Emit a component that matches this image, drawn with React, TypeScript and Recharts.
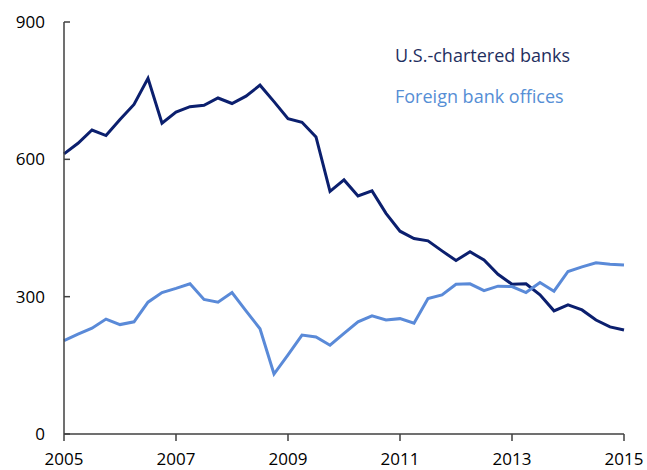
import React from "react";
import { LineChart, Line, XAxis, YAxis } from "recharts";

// quarterly, 2005Q1 .. 2015Q1
const quarters = [
  "2005Q1", "2005Q2", "2005Q3", "2005Q4",
  "2006Q1", "2006Q2", "2006Q3", "2006Q4",
  "2007Q1", "2007Q2", "2007Q3", "2007Q4",
  "2008Q1", "2008Q2", "2008Q3", "2008Q4",
  "2009Q1", "2009Q2", "2009Q3", "2009Q4",
  "2010Q1", "2010Q2", "2010Q3", "2010Q4",
  "2011Q1", "2011Q2", "2011Q3", "2011Q4",
  "2012Q1", "2012Q2", "2012Q3", "2012Q4",
  "2013Q1", "2013Q2", "2013Q3", "2013Q4",
  "2014Q1", "2014Q2", "2014Q3", "2014Q4",
  "2015Q1",
];

const usChartered = [
  612, 635, 664, 652, 687, 720, 777, 679, 703, 715, 718, 734, 722, 738, 762, 726,
  689, 681, 649, 530, 555, 520, 531, 482, 443, 427, 422, 400, 379, 398, 380, 349,
  327, 328, 304, 269, 282, 271, 249, 234, 227,
];

const foreignOffices = [
  204, 218, 231, 251, 239, 245, 288, 309, 318, 328, 294, 288, 309, 269, 230, 131,
  173, 216, 212, 194, 220, 245, 258, 249, 252, 242, 296, 304, 327, 328, 313, 323,
  322, 309, 331, 312, 355, 365, 374, 371, 369,
];

const xTicks = ["2005Q1", "2007Q1", "2009Q1", "2011Q1", "2013Q1", "2015Q1"];
const yTicks = [0, 300, 600, 900];

const data = quarters.map((q, i) => ({
  q,
  us: usChartered[i],
  foreign: foreignOffices[i],
}));

const DARK = "#0B1F6E";
const LIGHT = "#5A8AD8";
const FONT = "'Open Sans', sans-serif";

export default function App() {
  return (
    <div style={{ position: "absolute", left: 0, top: 0, width: 647, height: 470, background: "#fff" }}>
      <LineChart
        width={647}
        height={470}
        data={data}
        margin={{ top: 22, right: 23, bottom: 6, left: 0 }}
      >
        <XAxis
          dataKey="q"
          ticks={xTicks}
          interval={0}
          tickFormatter={(v: string) => v.slice(0, 4)}
          height={30}
          tickSize={7}
          tickMargin={12}
          axisLine={{ stroke: "#404040", strokeWidth: 1.5 }}
          tickLine={{ stroke: "#404040", strokeWidth: 1.5 }}
          tick={{ fontSize: 17, fill: "#000", fontFamily: FONT }}
        />
        <YAxis
          domain={[0, 900]}
          ticks={yTicks}
          width={64}
          tickSize={-6}
          tickMargin={25}
          axisLine={{ stroke: "#404040", strokeWidth: 1.5 }}
          tickLine={{ stroke: "#404040", strokeWidth: 1.5 }}
          tick={{ fontSize: 17, fill: "#000", fontFamily: FONT }}
        />
        <Line
          dataKey="us"
          stroke={DARK}
          strokeWidth={3}
          dot={false}
          isAnimationActive={false}
        />
        <Line
          dataKey="foreign"
          stroke={LIGHT}
          strokeWidth={3}
          dot={false}
          isAnimationActive={false}
        />
      </LineChart>
      <svg
        width={647}
        height={470}
        style={{ position: "absolute", left: 0, top: 0, pointerEvents: "none" }}
      >
        <text x={395} y={62} fontSize={18} fontFamily={FONT} fill="#1F2F60">
          U.S.-chartered banks
        </text>
        <text x={395} y={103} fontSize={18} fontFamily={FONT} fill="#558ED5">
          Foreign bank offices
        </text>
      </svg>
    </div>
  );
}
